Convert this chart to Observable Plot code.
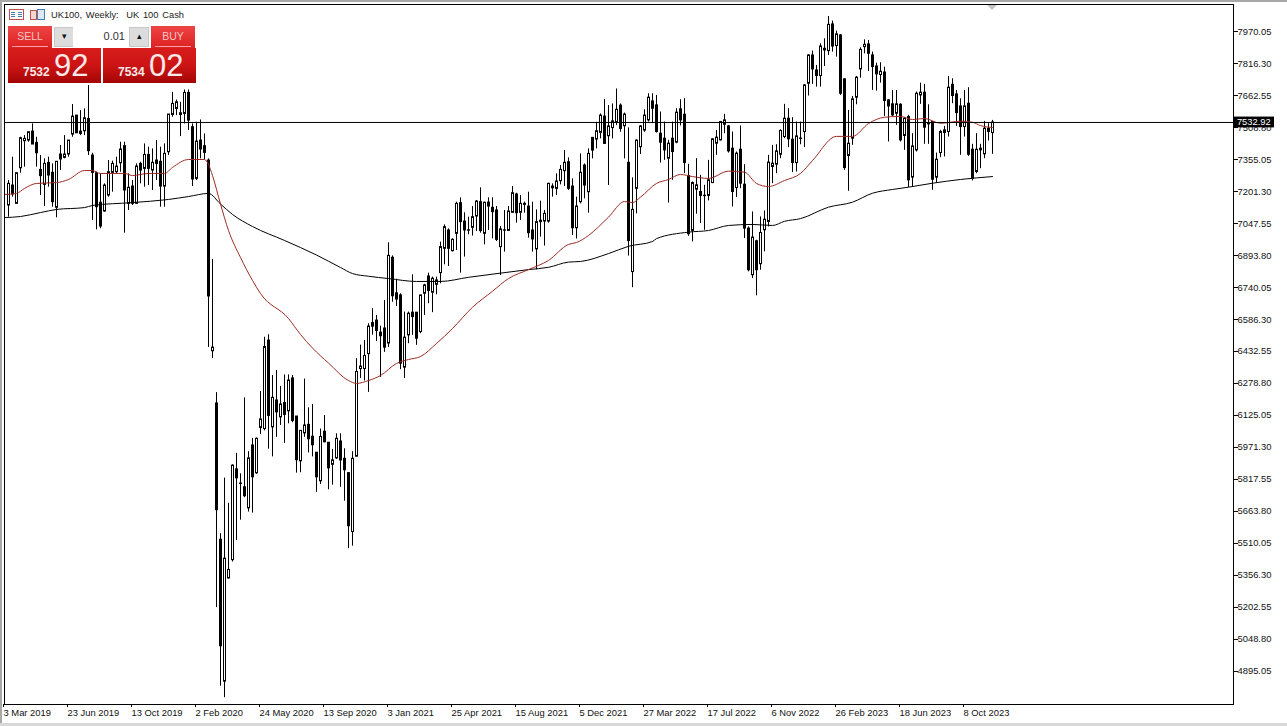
<!DOCTYPE html>
<html><head><meta charset="utf-8">
<script src="https://cdn.jsdelivr.net/npm/d3@7"></script>
<script src="https://cdn.jsdelivr.net/npm/@observablehq/plot@0.6"></script>
<style>
html,body{margin:0;padding:0;background:#fff;overflow:hidden;width:1287px;height:726px}
body{position:relative;font-family:"Liberation Sans",Arial,sans-serif}
#chart svg{display:block}
.ov{position:absolute;white-space:nowrap}
.edgeL{left:0;top:0;width:2px;height:726px;background:#a8a8a8}
.edgeT{left:0;top:0;width:1287px;height:2px;background:#a8a8a8}
.edgeB{left:0;top:723px;width:1287px;height:3px;background:#d8d8d8}
.title{left:51px;top:10px;font-size:9.3px;color:#222;word-spacing:1.2px}
.btn{top:26px;width:44px;height:22px;background:linear-gradient(#e44,#d22);color:#f3c6c6;font-size:10.5px;text-align:center;line-height:21px}
.btn i{position:absolute;left:4px;right:4px;bottom:1px;height:1px;background:#f5a0a0}
.quote{top:48px;width:93px;height:35px;background:linear-gradient(#d81c1c 0%,#cc1414 50%,#a50505 100%);color:#fbe9e9}
.quote b{position:absolute;left:15px;top:17px;font-size:12px;line-height:15px}
.quote span{position:absolute;left:46px;top:-2px;font-size:31px;line-height:40px;font-weight:400}
.step{top:27px;width:20px;height:20px;background:#dcdcdc;border:1px solid #c8c8c8;box-sizing:border-box;text-align:center;font-size:9px;line-height:17px;color:#111}
.lot{left:73px;top:27px;width:56px;height:20px;background:#fff;box-sizing:border-box;padding-right:4px;text-align:right;font-size:11px;line-height:19px;color:#333}
.marker{left:987px;top:5px;width:0;height:0;border-left:5px solid transparent;border-right:5px solid transparent;border-top:5px solid #c4c4c4}
</style></head><body>
<div id="chart"></div>
<div class="ov edgeL"></div><div class="ov edgeT"></div><div class="ov edgeB"></div>
<div class="ov marker"></div>
<svg class="ov" style="left:9px;top:9px" width="37" height="13">
<rect x=".5" y=".5" width="14" height="10" fill="#fff" stroke="#c0504d"/><path d="M2 3.5h4M2 5.5h4M2 7.5h4" stroke="#4a7ab5"/><path d="M9 3.5h4M9 5.5h4M9 7.5h4" stroke="#4a7ab5"/>
<rect x="21.5" y="1.5" width="6" height="9" fill="#f4d8d0" stroke="#c0504d"/><rect x="28.5" y=".5" width="7" height="10" fill="#dce8f4" stroke="#4a7ab5"/>
</svg>
<div class="ov title">UK100, Weekly:&nbsp; UK 100 Cash</div>
<div class="ov btn" style="left:8px">SELL<i></i></div>
<div class="ov btn" style="left:151px">BUY<i></i></div>
<div class="ov step" style="left:54px">&#9662;</div>
<div class="ov lot">0.01</div>
<div class="ov step" style="left:129px">&#9652;</div>
<div class="ov quote" style="left:8px"><b>7532</b><span>92</span></div>
<div class="ov quote" style="left:103px"><b>7534</b><span>02</span></div>
<script>
const open=[7094,7134,7230,7142,7313,7443,7446,7489,7435,7305,
7233,7339,7291,7123,7379,7363,7379,7475,7566,7489,
7491,7550,7374,7289,7147,7105,7182,7291,7294,7337,
7419,7142,7225,7142,7334,7310,7377,7302,7350,7344,
7225,7390,7569,7598,7577,7574,7675,7510,7262,7446,
7419,7350,6434,6183,5528,4846,5342,5430,5866,5796,
5780,5679,5981,5847,6065,6060,6485,6068,6197,6116,
6185,6145,6303,6120,5905,6039,6080,6023,5946,5809,
6047,5994,5888,5919,6000,5917,5848,5565,5927,6348,
6348,6420,6569,6581,6523,6543,6471,6883,6712,6702,
6355,6510,6619,6619,6526,6710,6793,6715,6753,6809,
6926,7014,6915,6998,7145,7057,7013,7027,7081,7150,
6998,7148,7123,7110,6934,7013,7012,7099,7187,7099,
7142,7129,7014,6923,7061,7057,7057,7225,7214,7251,
7299,7342,7225,7025,7150,7326,7198,7459,7451,7483,
7561,7467,7506,7534,7614,7515,7339,6814,7214,7414,
7494,7543,7634,7615,7479,7455,7359,7455,7436,7596,
7570,7276,7012,7210,7199,7181,7180,7242,7431,7447,
7522,7514,7407,7218,7402,7234,7023,6799,6962,6852,
7015,7055,7319,7330,7378,7463,7551,7450,7338,7454,
7487,7719,7855,7783,7756,7887,7876,8004,7900,7951,
7740,7372,7455,7652,7788,7895,7908,7855,7802,7761,
7773,7639,7620,7575,7618,7468,7559,7268,7399,7663,
7676,7530,7535,7268,7386,7495,7487,7714,7668,7610,
7511,7623,7402,7295,7399,7380,7503,7482];
const close=[7174,7238,7187,7289,7457,7454,7486,7427,7385,7275,
7334,7278,7150,7344,7355,7379,7446,7561,7481,7478,
7553,7395,7291,7126,7033,7230,7294,7334,7321,7403,
7206,7219,7142,7321,7302,7377,7310,7339,7334,7225,
7382,7571,7622,7630,7569,7675,7542,7259,7441,7403,
7387,6697,6451,5670,5016,5437,5383,5884,5823,5798,
5737,5919,5828,6013,6106,6454,6123,6210,6140,6178,
6128,6293,6099,5910,6051,6077,6011,5982,5828,6022,
5996,5871,5909,6013,5909,5862,5593,5917,6334,6360,
6411,6552,6552,6531,6506,6451,6892,6698,6682,6374,
6499,6614,6598,6494,6702,6750,6723,6782,6774,6934,
7030,6926,6969,7142,7054,7014,7015,7078,7153,7011,
7147,7129,7102,6969,7019,7015,7105,7193,7097,7142,
7137,7001,6971,7054,7054,7094,7238,7217,7249,7305,
7339,7214,7025,7129,7291,7230,7382,7398,7491,7566,
7430,7514,7538,7594,7502,7571,6963,7113,7446,7514,
7566,7652,7599,7487,7436,7399,7431,7391,7580,7543,
7338,6996,7242,7231,7180,7179,7255,7452,7460,7535,
7543,7394,7199,7383,7239,7023,6823,6980,6823,7002,
7066,7340,7335,7394,7492,7551,7452,7338,7466,7456,
7711,7855,7788,7756,7898,7879,8002,7898,7956,7671,
7314,7431,7644,7748,7882,7906,7863,7799,7764,7777,
7636,7610,7567,7620,7447,7551,7255,7418,7671,7676,
7508,7524,7258,7354,7487,7482,7700,7660,7578,7511,
7610,7378,7263,7402,7407,7503,7487,7532.92];
const high=[7222,7254,7366,7289,7462,7470,7486,7526,7462,7374,
7358,7366,7334,7344,7422,7470,7446,7619,7566,7590,
7598,7710,7385,7294,7286,7238,7350,7347,7366,7438,
7438,7286,7254,7334,7342,7430,7414,7406,7446,7414,
7430,7571,7678,7641,7630,7689,7689,7526,7534,7545,
7478,7358,6875,6235,5557,5824,5703,5888,5943,5845,
6210,5951,6015,6017,6240,6501,6513,6317,6341,6265,
6320,6320,6317,6120,6051,6300,6162,6178,5946,6060,
6125,5994,5962,6037,6037,5965,5848,5951,6398,6463,
6485,6566,6638,6605,6554,6677,6955,6892,6780,6710,
6622,6622,6801,6619,6702,6755,6809,6790,6790,6958,
7041,7022,6974,7150,7171,7099,7078,7129,7158,7219,
7150,7171,7171,7129,7033,7110,7129,7225,7193,7182,
7150,7198,7150,7113,7155,7110,7241,7238,7286,7326,
7398,7363,7262,7174,7382,7334,7406,7459,7534,7574,
7643,7614,7622,7694,7622,7578,7507,7267,7449,7518,
7594,7671,7671,7663,7583,7535,7447,7535,7599,7642,
7647,7332,7247,7359,7279,7231,7351,7455,7495,7538,
7572,7519,7487,7391,7516,7330,7031,7103,6967,7079,
7108,7375,7423,7426,7498,7620,7599,7556,7535,7535,
7714,7858,7876,7807,7911,7935,8042,8020,7972,7956,
7743,7591,7658,7754,7892,7930,7927,7871,7818,7820,
7799,7642,7687,7687,7623,7556,7567,7479,7679,7722,
7716,7618,7535,7386,7495,7514,7754,7743,7687,7647,
7687,7700,7428,7479,7428,7538,7527,7543];
const low=[7062,7078,7174,7142,7289,7318,7438,7427,7318,7182,
7129,7222,7126,7075,7302,7358,7366,7462,7481,7470,
7470,7374,7062,7017,7022,7102,7174,7198,7286,7294,
7001,7110,7134,7139,7238,7222,7230,7206,7254,7126,
7126,7374,7558,7566,7465,7526,7494,7225,7254,7358,
7353,6452,6399,5202,4824,4769,5339,5421,5524,5622,
5730,5661,5656,5843,6034,6051,5963,5926,6020,6077,
5991,6085,6090,5848,5850,6020,5945,5926,5756,5794,
5994,5768,5790,5914,5780,5713,5485,5497,5926,6303,
6291,6236,6511,6480,6308,6428,6451,6669,6648,6345,
6302,6470,6510,6462,6518,6606,6662,6619,6705,6758,
6849,6841,6910,6918,6809,6886,6993,6987,7009,7001,
6945,7014,6974,6961,6798,6910,7011,7097,7049,7062,
7097,6977,6910,6825,6982,6939,7049,7174,7182,7233,
7225,7206,6990,6973,7142,7166,7097,7358,7406,7454,
7427,7230,7454,7518,7486,7358,6891,6739,7094,7379,
7486,7535,7527,7482,7338,7351,7146,7255,7431,7516,
7287,6986,6959,7092,7047,7015,7156,7239,7375,7444,
7479,7386,7127,7172,7215,6975,6815,6783,6700,6823,
6911,7031,7239,7287,7359,7455,7412,7292,7295,7426,
7412,7660,7716,7703,7703,7802,7855,7871,7847,7663,
7303,7202,7423,7618,7746,7863,7778,7687,7684,7722,
7562,7439,7559,7519,7439,7399,7220,7223,7391,7620,
7428,7428,7207,7242,7364,7367,7463,7623,7514,7375,
7463,7370,7252,7287,7311,7359,7444,7380];

const slowBar=[0,4,9,13,20,22,32,41,46,51,54,57,62,70,78,84,87,91,96,103,109,116,124,131,136,141,144,151,156,162,163,171,176,181,187,192,195,199,206,212,217,222,226,232,239,247];
const slowMA=[7076,7081,7100,7115,7124,7134,7148,7163,7177,7192,7141,7091,7033,6966,6896,6836,6807,6794,6783,6769,6769,6789,6809,6826,6837,6862,6865,6903,6938,6961,6975,7006,7014,7038,7043,7038,7058,7071,7126,7150,7193,7211,7222,7241,7259,7273];
const fastBar=[0,3,5,8,13,16,20,22,24,30,32,36,40,42,46,50,51,52,54,56,59,62,64,71,74,77,81,86,88,91,94,98,101,104,108,112,117,122,126,131,136,141,143,146,151,155,157,159,163,166,169,172,176,181,185,188,191,195,199,202,208,212,216,220,224,227,230,234,239,242,244,247];
const fastMA=[7187,7192,7216,7240,7244,7259,7302,7302,7288,7288,7278,7288,7288,7317,7355,7355,7331,7278,7141,7014,6884,6774,6711,6591,6514,6449,6377,6293,6279,6293,6317,6375,6394,6408,6471,6543,6645,6722,6783,6826,6870,6947,6956,6990,7078,7153,7148,7174,7240,7259,7283,7273,7264,7299,7294,7240,7225,7254,7288,7350,7466,7466,7528,7558,7562,7547,7552,7529,7539,7534,7518,7509];

const priceTicks=[7970.05,7816.30,7662.55,7508.80,7355.05,7201.30,7047.55,6893.80,6740.05,6586.30,6432.55,6278.80,6125.05,5971.30,5817.55,5663.80,5510.05,5356.30,5202.55,5048.80,4895.05];
const dateTickBars=[0,16,32,48,64,80,96,112,128,144,160,176,192,208,224,240];
const dateTickLabels=["3 Mar 2019","23 Jun 2019","13 Oct 2019","2 Feb 2020","24 May 2020","13 Sep 2020","3 Jan 2021","25 Apr 2021","15 Aug 2021","5 Dec 2021","27 Mar 2022","17 Jul 2022","6 Nov 2022","26 Feb 2023","18 Jun 2023","8 Oct 2023"];
const lastPrice=7532.92;
const firstVisibleBar=1;

const candles=open.map((o,i)=>({i,o,c:close[i],h:high[i],l:low[i]})).filter(d=>d.i>=firstVisibleBar);
const slow=slowBar.map((b,k)=>({b,v:slowMA[k]}));
const fast=fastBar.map((b,k)=>({b,v:fastMA[k]}));
const labelFont='"Liberation Sans",Arial,sans-serif';

const chart=Plot.plot({
  width:1287,height:726,
  marginLeft:4,marginRight:54,marginTop:4,marginBottom:22,
  style:{background:"transparent",fontFamily:labelFont,fontSize:"9.4px",color:"#111"},
  x:{domain:[0,307.25],axis:null},
  y:{domain:[4736.3,8099.8],axis:null},
  marks:[
    Plot.ruleX(candles,{x:"i",y1:"l",y2:"h",stroke:"#000",strokeWidth:1}),
    Plot.rect(candles,{x1:d=>d.i-0.25,x2:d=>d.i+0.25,y1:"o",y2:"c",stroke:"#000",strokeWidth:1,dx:0.5,fill:d=>d.c>=d.o?"#fff":"#000"}),
    Plot.line(slow,{x:"b",y:"v",stroke:"#000",strokeWidth:1,curve:"monotone-x"}),
    Plot.line(fast,{x:"b",y:"v",stroke:"#9c2a22",strokeWidth:1,curve:"monotone-x"}),
    Plot.ruleY([lastPrice],{stroke:"#000",strokeWidth:1}),
    Plot.frame({stroke:"#000",strokeWidth:1}),
    Plot.axisY({anchor:"right",ticks:priceTicks,tickFormat:d=>d.toFixed(2),tickSize:4,tickPadding:0,label:null,stroke:"#000",fill:"#111"}),
    Plot.axisX({anchor:"bottom",ticks:dateTickBars,tickFormat:d=>dateTickLabels[dateTickBars.indexOf(d)],tickSize:3,tickPadding:2,textAnchor:"start",label:null,stroke:"#000",fill:"#111",dx:-1}),
    Plot.rect([lastPrice],{x1:307.5,x2:317.5,y1:d=>d-26,y2:d=>d+26,fill:"#000",clip:false}),
    Plot.text([lastPrice],{x:308.1,y:d=>d,text:d=>d.toFixed(2),fill:"#fff",textAnchor:"start",clip:false})
  ]
});
document.getElementById("chart").append(chart);
</script>
</body></html>
